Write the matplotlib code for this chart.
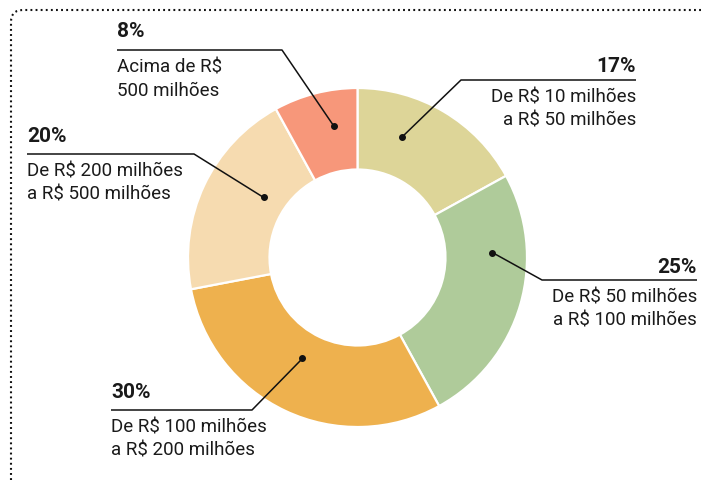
import numpy as np
import matplotlib
matplotlib.use("Agg")
import matplotlib.pyplot as plt
from matplotlib.path import Path
from matplotlib.patches import PathPatch

# faixas de receita, sentido horario a partir do topo
labels_pct = ["17%", "25%", "30%", "20%", "8%"]
values = [17, 25, 30, 20, 8]
desc_lines = [
    ["De R$ 10 milhões", "a R$ 50 milhões"],
    ["De R$ 50 milhões", "a R$ 100 milhões"],
    ["De R$ 100 milhões", "a R$ 200 milhões"],
    ["De R$ 200 milhões", "a R$ 500 milhões"],
    ["Acima de R$", "500 milhões"],
]
colors = ["#DDD598", "#AFCB9A", "#EEB14E", "#F6DBB0", "#F7977A"]

W, H = 701, 480
# layout in pixels (y from top): text x, align, line y, elbow x, dot angle, dot radius, pct gap
layout = [
    dict(x=636, ha="right", ly=80, ex=461, ang=69.6, r=129, gap=8),
    dict(x=697, ha="right", ly=280, ex=542, ang=2.1, r=135, gap=7),
    dict(x=111, ha="left", ly=410, ex=252, ang=-118.6, r=115, gap=12),
    dict(x=27, ha="left", ly=154, ex=194, ang=147.4, r=111.5, gap=12),
    dict(x=117, ha="left", ly=50, ex=282, ang=100.3, r=134, gap=13),
]
cx, cy, R, R_in = 357.5, 257.5, 169.5, 88

def py(y):
    return H - y

fig = plt.figure(figsize=(W / 100, H / 100), dpi=100)
ax = fig.add_axes([0, 0, 1, 1])

ax.pie(values, colors=colors, startangle=90, counterclock=False,
       center=(cx, py(cy)), radius=R,
       wedgeprops=dict(width=R - R_in, edgecolor="white", linewidth=1.6))

ax.set_xlim(0, W)
ax.set_ylim(0, H)
ax.set_aspect("equal")
ax.axis("off")

txt_color = "#1a1a1a"
for pct, lines, lay in zip(labels_pct, desc_lines, layout):
    a = np.radians(lay["ang"])
    dx = cx + lay["r"] * np.cos(a)
    dy = cy - lay["r"] * np.sin(a)
    xs = [dx, lay["ex"], lay["x"]]
    ax.plot(xs, [py(dy), py(lay["ly"]), py(lay["ly"])], color="#111111", lw=1.1,
            solid_capstyle="butt")
    ax.plot(dx, py(dy), "o", color="#111111", ms=4)
    ax.text(lay["x"], py(lay["ly"] - lay["gap"]), pct, ha=lay["ha"], va="baseline",
            fontsize=15, fontweight="bold", family="Roboto", color=txt_color)
    for i, line in enumerate(lines):
        ax.text(lay["x"], py(lay["ly"] + 23 + i * 22.5), line, ha=lay["ha"],
                va="baseline", fontsize=13.5, family="Roboto", color=txt_color)

# moldura pontilhada (topo e esquerda, canto arredondado)
verts = [(11, py(H)), (11, py(22)), (11, py(10)), (23, py(10)), (W, py(10))]
codes = [Path.MOVETO, Path.LINETO, Path.CURVE3, Path.CURVE3, Path.LINETO]
frame = PathPatch(Path(verts, codes), fill=False, edgecolor="#111111", lw=1.5,
                  linestyle=(0, (0.9, 1.55)))
ax.add_patch(frame)

fig.savefig("out.png", dpi=100)
